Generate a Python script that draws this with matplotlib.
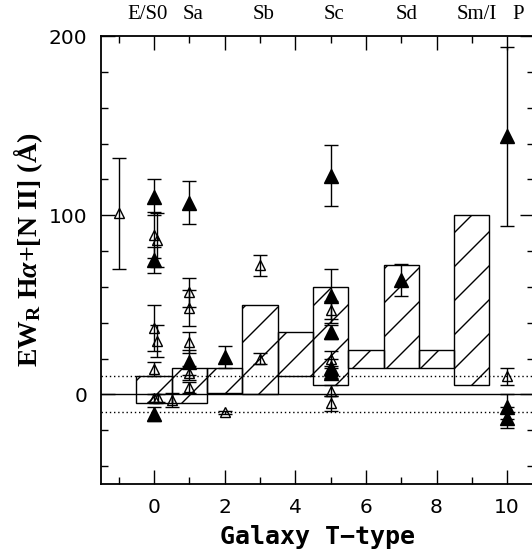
import numpy as np
import matplotlib
matplotlib.use("Agg")
import matplotlib.pyplot as plt
from matplotlib.patches import Rectangle
from matplotlib.ticker import MultipleLocator

# Datos: puntos abiertos (x, EW, error)
abiertos_x = [-1, 0, 0.08, 0, 0.08, 0, 0, 0.12, 0.5, 1, 1, 1, 1, 1, 2, 3, 3, 5, 5, 5, 5, 10]
abiertos_y = [101, 89, 86, 37, 30, 14, -2, -2, -3, 57, 48, 29, 12, 4, -10, 72, 20, 47, 20, 2, -5, 10]
abiertos_err = [31, 13, 15, 13, 9, 4, 2, 2, 4, 8, 10, 6, 4, 3, 1, 6, 3, 5, 4, 3, 4, 5]

# puntos llenos
llenos_x = [0, 0, 0, 1, 1, 2, 5, 5, 5, 5, 5, 7, 10, 10, 10]
llenos_y = [110, 75, -11, 107, 18, 21, 122, 55, 35, 15, 12, 64, 144, -7, -13]
llenos_err = [10, 7, 4, 12, 7, 6, 17, 15, 4, 5, 3, 9, 50, 7, 6]

# cajas (T-type central, minimo, maximo)
cajas_t = [0, 1, 2, 3, 4, 5, 6, 7, 8, 9]
cajas_min = [-5, -5, 1, 0, 10, 5, 15, 15, 15, 5]
cajas_max = [10, 15, 15, 50, 35, 60, 25, 72, 25, 100]

# etiquetas morfologicas de arriba
tipos_pos = [-0.17, 1.1, 3.1, 5.1, 7.15, 9.15, 10.3]
tipos_txt = ['E/S0', 'Sa', 'Sb', 'Sc', 'Sd', 'Sm/I', 'P']

plt.rcParams['mathtext.fontset'] = 'custom'
plt.rcParams['mathtext.rm'] = 'Liberation Serif:bold'
plt.rcParams['mathtext.bf'] = 'Liberation Serif:bold'
plt.rcParams['mathtext.it'] = 'Liberation Serif:italic:bold'

fig = plt.figure(figsize=(5.32, 5.51), dpi=100)
ax = fig.add_axes([101/532, 1-484/551, 433/532, 448/551])
ax.set_xlim(-1.5, 10.76)
ax.set_ylim(-50, 200)

# lineas horizontales
ax.axhline(0, color='black', lw=1)
ax.axhline(10, color='black', lw=1, ls=(0, (1, 2)))
ax.axhline(-10, color='black', lw=1, ls=(0, (1, 2)))

# cajas con rayado
sp = 34  # separacion del rayado en pixeles
inv = ax.transData.inverted()
for t, lo, hi in zip(cajas_t, cajas_min, cajas_max):
    rect = Rectangle((t-0.5, lo), 1, hi-lo, facecolor='none', edgecolor='black', lw=1, zorder=2)
    ax.add_patch(rect)
    px0, py0 = ax.transData.transform((t-0.5, lo))
    px1, py1 = ax.transData.transform((t+0.5, hi))
    cs = np.arange(np.floor((py0-px1)/sp)*sp, py1-px0+sp, sp)
    for c in cs:
        p = inv.transform([(px0, px0+c), (px1, px1+c)])
        ln, = ax.plot(p[:, 0], p[:, 1], color='black', lw=1, zorder=2)
        ln.set_clip_path(rect)

ax.errorbar(abiertos_x, abiertos_y, yerr=abiertos_err, fmt='^', mfc='none', mec='black',
            ms=7, mew=1, ecolor='black', elinewidth=1, capsize=5, capthick=1, zorder=3)
ax.errorbar(llenos_x, llenos_y, yerr=llenos_err, fmt='^', color='black',
            ms=10, ecolor='black', elinewidth=1, capsize=5, capthick=1, zorder=4)

ax.xaxis.set_major_locator(MultipleLocator(2))
ax.xaxis.set_minor_locator(MultipleLocator(1))
ax.yaxis.set_major_locator(MultipleLocator(100))
ax.yaxis.set_minor_locator(MultipleLocator(20))
ax.tick_params(which='both', direction='in', top=True, right=True, width=1)
ax.tick_params(which='major', length=10, labelsize=14.5, pad=10)
ax.tick_params(which='minor', length=5)
for s in ax.spines.values():
    s.set_linewidth(1.3)

ax.set_xlabel('Galaxy T\u2212type', family='DejaVu Sans Mono', fontweight='bold', fontsize=18, labelpad=6)
fig.text(28/532, 1-250/551, r'EW$_\mathbf{R}$ H$\alpha$+[N II] (Å)', rotation=90,
         ha='center', va='center', family='Liberation Serif', fontweight='bold', fontsize=20)

for xp, tx in zip(tipos_pos, tipos_txt):
    ax.text(xp, 1.047, tx, transform=ax.get_xaxis_transform(), ha='center', va='center',
            family='Liberation Serif', fontsize=15)

plt.savefig('out.png', dpi=100)
